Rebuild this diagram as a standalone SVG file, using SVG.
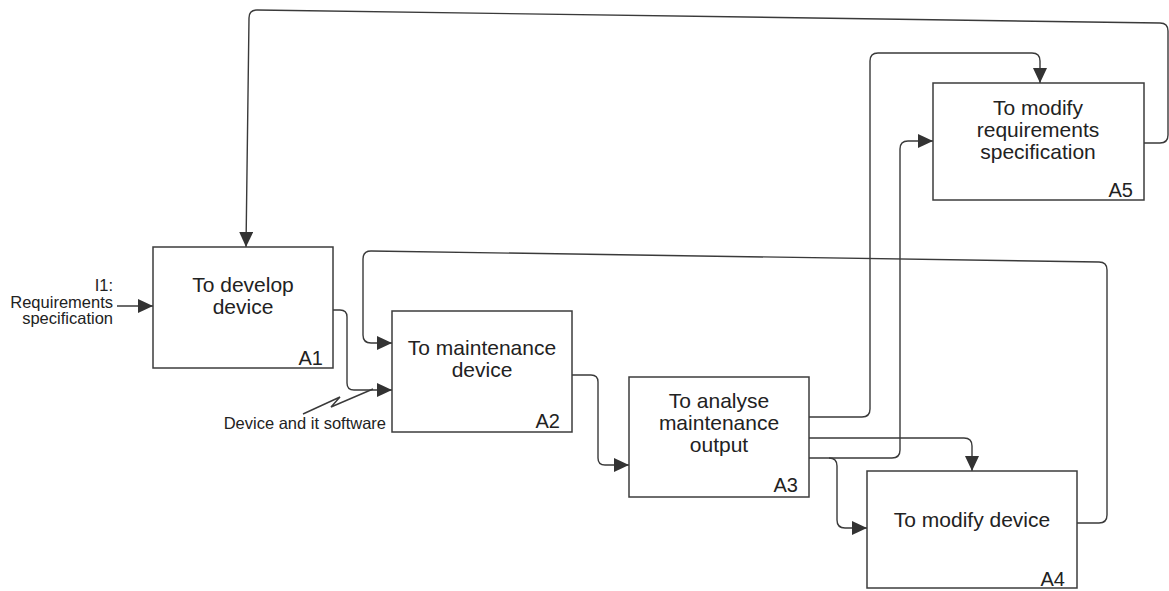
<svg xmlns="http://www.w3.org/2000/svg" width="1169" height="591" viewBox="0 0 1169 591">
<defs>
<marker id="arr" markerUnits="userSpaceOnUse" markerWidth="16" markerHeight="14" refX="15" refY="7" orient="auto">
<path d="M0,0 L15,7 L0,14 Z" fill="#333"/>
</marker>
<style>
.box{fill:#fff;stroke:#3c3c3c;stroke-width:1.5}
.t{font-family:"Liberation Sans",Arial,sans-serif;font-size:21px;fill:#222;text-anchor:middle}
.lb{font-family:"Liberation Sans",Arial,sans-serif;font-size:20px;fill:#222;text-anchor:end}
.sm{font-family:"Liberation Sans",Arial,sans-serif;font-size:16.5px;fill:#222;text-anchor:end}
.c{fill:none;stroke:#3a3a3a;stroke-width:1.4}
</style>
</defs>
<rect width="1169" height="591" fill="#fff"/>
<g id="connectors">
<path class="c" marker-end="url(#arr)" d="M1144,143 H1160 Q1168,143 1168,135 V31 Q1168,23 1160,23 L257,10 Q249,10 249,18 L246,247"/>
<path class="c" marker-end="url(#arr)" d="M117,306 H153"/>
<path class="c" marker-end="url(#arr)" d="M333,310 H340 Q347,310 347,317 V383 Q347,390 354,390 H392"/>
<path class="c" marker-end="url(#arr)" d="M1077,523 H1099 Q1107,523 1107,515 V270 Q1107,262 1099,262 L371,251 Q363,251 363,259 V335 Q363,343 371,343 H392"/>
<path class="c" marker-end="url(#arr)" d="M572,375 H591 Q598,375 598,382 V458 Q598,465 605,465 H629"/>
<path class="c" marker-end="url(#arr)" d="M809,417 H862 Q870,417 870,409 V61 Q870,53 878,53 H1032 Q1040,53 1040,61 V83"/>
<path class="c" marker-end="url(#arr)" d="M809,438 H964 Q972,438 972,446 V471"/>
<path class="c" marker-end="url(#arr)" d="M809,458 H892 Q900,458 900,450 V149 Q900,141 908,141 H933"/>
<path class="c" marker-end="url(#arr)" d="M829,458 Q837,458 837,466 V520 Q837,528 845,528 H867"/>
<path class="c" d="M303,414 L340,397 L331,407 L373,389"/>
</g>
<g id="A1">
<rect class="box" x="153" y="247" width="180" height="121"/>
<text class="t" x="243" y="292">To develop</text>
<text class="t" x="243" y="314">device</text>
<text class="lb" x="323" y="365">A1</text>
</g>
<g id="A2">
<rect class="box" x="392" y="311" width="180" height="121"/>
<text class="t" x="482" y="355">To maintenance</text>
<text class="t" x="482" y="377">device</text>
<text class="lb" x="560" y="428">A2</text>
</g>
<g id="A3">
<rect class="box" x="629" y="377" width="180" height="120"/>
<text class="t" x="719" y="408">To analyse</text>
<text class="t" x="719" y="430">maintenance</text>
<text class="t" x="719" y="452">output</text>
<text class="lb" x="798" y="492">A3</text>
</g>
<g id="A4">
<rect class="box" x="867" y="471" width="210" height="117"/>
<text class="t" x="972" y="527">To modify device</text>
<text class="lb" x="1065" y="586">A4</text>
</g>
<g id="A5">
<rect class="box" x="933" y="83" width="211" height="117"/>
<text class="t" x="1038" y="115">To modify</text>
<text class="t" x="1038" y="137">requirements</text>
<text class="t" x="1038" y="159">specification</text>
<text class="lb" x="1133" y="197">A5</text>
</g>
<g id="labels">
<text class="sm" x="113" y="291">I1:</text>
<text class="sm" x="113" y="308">Requirements</text>
<text class="sm" x="113" y="324">specification</text>
<text class="sm" x="386" y="429">Device and it software</text>
</g>
</svg>
